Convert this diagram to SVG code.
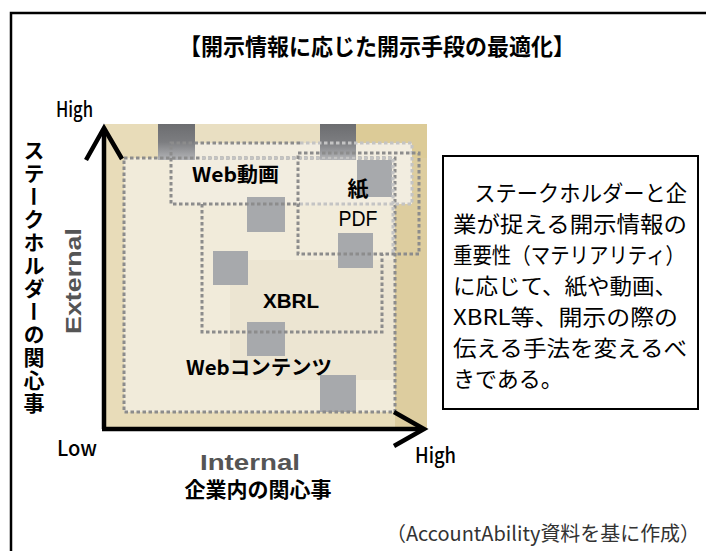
<svg xmlns="http://www.w3.org/2000/svg" width="706" height="551" viewBox="0 0 706 551">
<style>
.jp{font-family:"Noto Sans CJK JP","Noto Sans",sans-serif}
.lat{font-family:"Liberation Sans","Noto Sans CJK JP",sans-serif}
.b{font-weight:bold}
.m{font-weight:500}
.dot{fill:none;stroke:#8c8c8c;stroke-width:3;stroke-dasharray:3.5 2.5}
.dotl{fill:none;stroke:#c4c4c4;stroke-width:3;stroke-dasharray:3.5 2.5}
.sq{fill:#a7a9ac}
.ax{fill:none;stroke:#000;stroke-width:4.5;stroke-linejoin:miter;stroke-linecap:butt}
</style>
<defs>
<linearGradient id="dk" x1="0" y1="0" x2="0" y2="1">
<stop offset="0" stop-color="#6c6d70"/>
<stop offset="0.5" stop-color="#7c7d80"/>
<stop offset="1" stop-color="#b4b5b8"/>
</linearGradient>
</defs>
<rect width="706" height="551" fill="#fff"/>
<path d="M11 551V13H706" fill="none" stroke="#000" stroke-width="2.5"/>
<text class="jp b" x="377" y="55" font-size="23" text-anchor="middle" textLength="396" lengthAdjust="spacingAndGlyphs">【開示情報に応じた開示手段の最適化】</text>

<g id="chart-bg">
<rect x="105" y="124" width="322" height="305" fill="#e8dcb9"/>
<rect x="195" y="124" width="125" height="34" fill="#e9dfc2"/>
<rect x="356" y="124" width="71" height="34" fill="#dccb97"/>
<rect x="395" y="158" width="32" height="271" fill="#ddcd9f"/>
<rect x="124" y="158" width="271" height="254" fill="#f1ebda"/>
<rect x="230" y="260" width="165" height="120" fill="#ece5d2"/>
<rect x="171" y="143" width="241" height="61" fill="#f2ede0"/>
<rect x="158" y="124" width="37" height="36" fill="url(#dk)"/>
<rect x="320" y="124" width="36" height="36" fill="url(#dk)"/>
</g>

<g id="squares">
<rect class="sq" x="357" y="160" width="35" height="37"/>
<rect class="sq" x="247" y="197" width="38" height="35"/>
<rect class="sq" x="338" y="233" width="35" height="35"/>
<rect class="sq" x="213" y="251" width="35" height="34"/>
<rect class="sq" x="247" y="322" width="38" height="34"/>
<rect class="sq" x="320" y="375" width="36" height="37"/>
</g>

<g id="web-contents">
<rect class="dot" x="124" y="158" width="271" height="254"/>
<text class="jp b" x="186" y="375" font-size="20" textLength="146" lengthAdjust="spacingAndGlyphs">Webコンテンツ</text>
</g>
<g id="xbrl">
<path class="dotl" d="M202 158H393V254"/>
<path class="dot" d="M202 204V332H382V254"/>
<text class="lat b" x="291" y="308" font-size="21" text-anchor="middle" textLength="56" lengthAdjust="spacingAndGlyphs">XBRL</text>
</g>
<g id="web-video">
<path class="dot" d="M300 143H171V204H300"/>
<path class="dotl" d="M300 143H412V204H300"/>
<text class="jp b" x="192" y="182" font-size="20" textLength="87" lengthAdjust="spacingAndGlyphs">Web動画</text>
</g>
<g id="paper-pdf">
<rect class="dot" x="298" y="153" width="121" height="101"/>
<text class="jp b" x="358" y="196" font-size="21" text-anchor="middle">紙</text>
<text class="lat" x="358" y="226" font-size="22" text-anchor="middle" textLength="39" lengthAdjust="spacingAndGlyphs">PDF</text>
</g>

<g id="axes">
<path class="ax" d="M104 429V130"/>
<path class="ax" d="M86 160L104 128L122 159"/>
<path class="ax" d="M102 429H421"/>
<path class="ax" d="M394 412L424 429L394 446"/>
</g>

<g id="axis-labels">
<text class="jp m" x="56" y="117" font-size="21" textLength="37" lengthAdjust="spacingAndGlyphs">High</text>
<text class="jp m" x="57" y="456" font-size="21" textLength="40" lengthAdjust="spacingAndGlyphs">Low</text>
<text class="jp m" x="415" y="463" font-size="21" textLength="41" lengthAdjust="spacingAndGlyphs">High</text>
<text class="lat b" x="250" y="470" font-size="22" fill="#555" text-anchor="middle" textLength="100" lengthAdjust="spacingAndGlyphs">Internal</text>
<text class="jp b" x="258" y="497" font-size="21" text-anchor="middle">企業内の関心事</text>
<text class="lat b" transform="translate(81 281) rotate(-90)" font-size="22" fill="#555" text-anchor="middle" textLength="106" lengthAdjust="spacingAndGlyphs">External</text>
<text class="jp b" x="34" y="140" font-size="21" style="writing-mode:vertical-rl" letter-spacing="2">ステークホルダーの関心事</text>
</g>

<g id="note">
<rect x="443" y="156" width="255" height="253" fill="#fff" stroke="#000" stroke-width="2"/>
<text class="jp" font-size="22">
<tspan x="453" y="201" textLength="234" lengthAdjust="spacingAndGlyphs">　ステークホルダーと企</tspan>
<tspan x="453" y="232" textLength="234" lengthAdjust="spacingAndGlyphs">業が捉える開示情報の</tspan>
<tspan x="453" y="263" textLength="232" lengthAdjust="spacingAndGlyphs">重要性（マテリアリティ）</tspan>
<tspan x="453" y="294" textLength="224" lengthAdjust="spacingAndGlyphs">に応じて、紙や動画、</tspan>
<tspan x="453" y="325" textLength="225" lengthAdjust="spacingAndGlyphs">XBRL等、開示の際の</tspan>
<tspan x="453" y="356" textLength="234" lengthAdjust="spacingAndGlyphs">伝える手法を変えるべ</tspan>
<tspan x="453" y="387">きである。</tspan>
</text>
</g>

<text class="jp" x="700" y="541" font-size="20" fill="#333" text-anchor="end" textLength="314" lengthAdjust="spacingAndGlyphs">（AccountAbility資料を基に作成）</text>
</svg>
